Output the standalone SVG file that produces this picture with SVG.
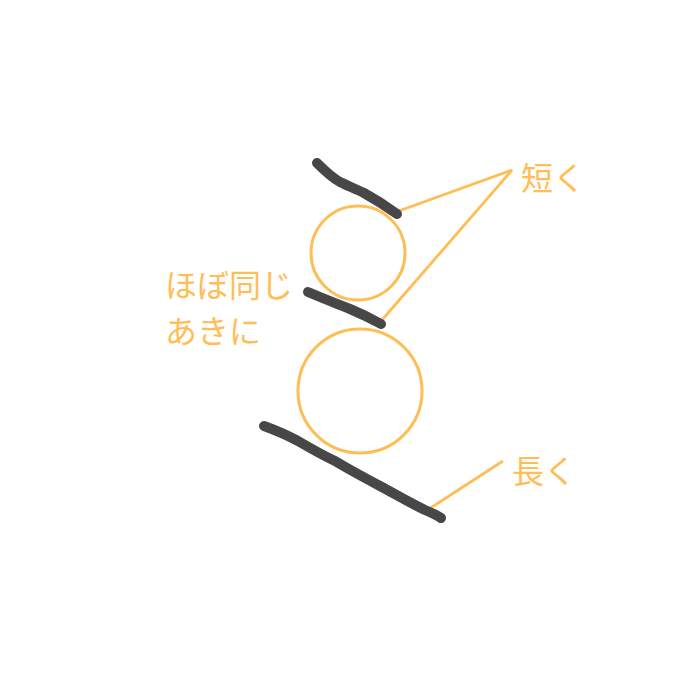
<svg xmlns="http://www.w3.org/2000/svg" width="700" height="700" viewBox="0 0 700 700">
<style>
.o{fill:none;stroke:#FFBE55;stroke-width:3}
.l{fill:none;stroke:#FFBE55;stroke-width:2.8}
.s{fill:none;stroke:#474747;stroke-width:10;stroke-linecap:round;stroke-linejoin:round}
.t{fill:#FFBE55;font-family:"Noto Sans CJK JP","Noto Sans CJK SC",sans-serif;font-size:32px}
</style>
<rect width="700" height="700" fill="#fff"/>
<g id="connectors">
<line class="l" x1="396" y1="212" x2="512" y2="170"/>
<line class="l" x1="382" y1="320" x2="512" y2="170"/>
<line class="l" x1="429" y1="509" x2="503" y2="461"/>
</g>
<g id="small-circle"><circle class="o" cx="358" cy="253" r="47"/></g>
<g id="large-circle"><circle class="o" cx="360" cy="391" r="62"/></g>
<g id="top-stroke"><path class="s" d="M317,163 C324,170 331,177 340,182 C348,186 356,189 364,193 C375,199 386,206 397,214"/></g>
<g id="middle-stroke"><path class="s" d="M308,292 C322,298 335,303 350,309 C362,314 372,319 381,324"/></g>
<g id="bottom-stroke"><path class="s" d="M264,426 C275,430 285,434 298,441 C310,448 322,455 335,461 C350,470 365,478 380,486 C395,494 410,503 425,510 C432,513 438,516 441,518"/></g>
<g id="label-short"><text class="t" x="521" y="190">短く</text></g>
<g id="label-long"><text class="t" x="512" y="483">長く</text></g>
<g id="label-same"><text class="t" x="165" y="297">ほぼ同じ</text><text class="t" x="165" y="343">あきに</text></g>
</svg>
